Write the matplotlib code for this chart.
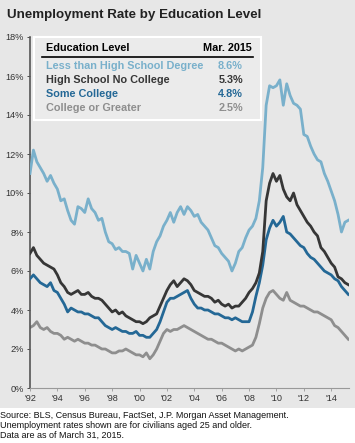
import numpy as np
import matplotlib
matplotlib.use("Agg")
import matplotlib.pyplot as plt
from matplotlib.patches import Rectangle

plt.rcParams['font.family'] = ['Liberation Sans', 'DejaVu Sans']

# quarterly readings, 1992 Q1 .. 2015 Q2 start (94 points)
quarters = 1992 + np.arange(94) / 4

less_hs = [
    11.0, 12.2, 11.6, 11.3, 11.0, 10.6, 10.9, 10.5, 10.2, 9.6, 9.7, 9.1,
    8.6, 8.4, 9.3, 9.2, 9.0, 9.7, 9.2, 9.0, 8.6, 8.7, 8.0, 7.5,
    7.4, 7.1, 7.2, 7.0, 7.0, 6.9, 6.1, 6.8, 6.4, 6.0, 6.6, 6.1,
    7.0, 7.5, 7.8, 8.3, 8.6, 9.0, 8.5, 9.0, 9.3, 8.9, 9.3, 9.1,
    8.8, 8.9, 8.5, 8.3, 8.1, 7.7, 7.3, 7.2, 6.9, 6.7, 6.5, 6.0,
    6.4, 7.0, 7.2, 7.7, 8.1, 8.3, 8.7, 9.6, 11.3, 14.5, 15.5, 15.4,
    15.5, 15.8, 14.5, 15.6, 15.0, 14.6, 14.5, 14.3, 13.0, 12.9, 12.4, 12.0,
    11.7, 11.6, 11.0, 10.6, 10.1, 9.6, 8.9, 8.0, 8.5, 8.6]
hs_no_college = [
    6.9, 7.2, 6.8, 6.6, 6.4, 6.3, 6.2, 6.1, 5.8, 5.4, 5.2, 4.9,
    4.8, 4.9, 5.0, 4.8, 4.8, 4.9, 4.7, 4.6, 4.6, 4.5, 4.3, 4.1,
    3.9, 4.0, 3.8, 3.9, 3.7, 3.6, 3.5, 3.4, 3.4, 3.3, 3.4, 3.6,
    3.7, 3.8, 4.2, 4.6, 5.0, 5.3, 5.5, 5.2, 5.4, 5.6, 5.5, 5.3,
    5.0, 4.9, 4.8, 4.7, 4.7, 4.6, 4.4, 4.5, 4.3, 4.2, 4.3, 4.1,
    4.2, 4.2, 4.4, 4.6, 4.9, 5.1, 5.4, 5.9, 7.0, 9.6, 10.5, 11.0,
    10.6, 10.9, 10.2, 9.8, 9.6, 10.0, 9.4, 9.1, 8.8, 8.5, 8.3, 8.0,
    7.8, 7.2, 7.0, 6.7, 6.4, 6.2, 5.7, 5.6, 5.4, 5.3]
some_college = [
    5.6, 5.8, 5.6, 5.4, 5.3, 5.2, 5.4, 5.0, 4.9, 4.6, 4.3, 3.9,
    4.1, 4.0, 3.9, 3.9, 3.8, 3.8, 3.7, 3.6, 3.6, 3.4, 3.2, 3.1,
    3.0, 3.1, 3.0, 2.9, 2.9, 2.8, 2.8, 2.9, 2.7, 2.7, 2.6, 2.6,
    2.8, 3.0, 3.4, 3.9, 4.4, 4.6, 4.6, 4.7, 4.8, 4.9, 5.0, 4.6,
    4.3, 4.1, 4.1, 4.0, 4.0, 3.9, 3.8, 3.8, 3.7, 3.6, 3.6, 3.5,
    3.6, 3.5, 3.4, 3.4, 3.4, 3.9, 4.7, 5.4, 6.3, 7.6, 8.2, 8.6,
    8.3, 8.5, 8.8, 8.0, 7.9, 7.7, 7.5, 7.3, 7.2, 6.9, 6.7, 6.6,
    6.4, 6.2, 6.0, 5.9, 5.8, 5.6, 5.5, 5.2, 5.0, 4.8]
college = [
    3.1, 3.2, 3.4, 3.1, 3.0, 3.1, 2.9, 2.8, 2.8, 2.7, 2.5, 2.6,
    2.5, 2.4, 2.5, 2.4, 2.3, 2.3, 2.2, 2.2, 2.1, 2.0, 2.0, 1.9,
    1.8, 1.8, 1.9, 1.9, 2.0, 1.9, 1.8, 1.7, 1.7, 1.6, 1.8, 1.5,
    1.7, 2.0, 2.4, 2.8, 3.0, 2.9, 3.0, 3.0, 3.1, 3.2, 3.1, 3.0,
    2.9, 2.8, 2.7, 2.6, 2.5, 2.5, 2.4, 2.3, 2.3, 2.2, 2.1, 2.0,
    1.9, 2.0, 1.9, 2.0, 2.1, 2.2, 2.6, 3.3, 4.1, 4.6, 4.9, 5.0,
    4.8, 4.6, 4.5, 4.9, 4.5, 4.4, 4.3, 4.2, 4.2, 4.1, 4.0, 3.9,
    3.9, 3.8, 3.7, 3.6, 3.5, 3.2, 3.1, 2.9, 2.7, 2.5]

labels = ["Less than High School Degree", "High School No College",
          "Some College", "College or Greater"]
latest = ["8.6%", "5.3%", "4.8%", "2.5%"]
colors = ["#79b0cb", "#363636", "#246896", "#8e8e8e"]

year_ticks = list(range(1992, 2015, 2))
year_labels = ["'%02d" % (y % 100) for y in year_ticks]

bg = "#e7e7e7"
fig = plt.figure(figsize=(3.55, 4.43), dpi=100, facecolor=bg)
fig.patches.append(Rectangle((0, 0), 1, 35 / 443, transform=fig.transFigure,
                             facecolor="white", edgecolor="none", zorder=0))

ax = fig.add_axes([30 / 355, 55 / 443, 319 / 355, 351 / 443])
ax.set_facecolor(bg)

series = [less_hs, hs_no_college, some_college, college]
for vals, c, z in zip(series[::-1], colors[::-1], [2, 3, 4, 5]):
    ax.plot(quarters, vals, color=c, lw=2.0, zorder=z)

ax.set_xlim(1992, 2015.3)
ax.set_ylim(0, 18)
ax.set_yticks(range(0, 19, 2))
ax.set_yticklabels(["%d%%" % v for v in range(0, 19, 2)])
ax.set_xticks(year_ticks)
ax.set_xticklabels(year_labels)
ax.tick_params(labelsize=6.6, colors="#333333", length=2.5, width=0.6, pad=2)
ax.tick_params(axis='x', colors="#999999", labelcolor="#333333")
for s in ["top", "right"]:
    ax.spines[s].set_visible(False)
ax.spines["left"].set_color("#555555")
ax.spines["left"].set_linewidth(1.2)
ax.spines["bottom"].set_color("#999999")
ax.spines["bottom"].set_linewidth(0.8)

# legend table
fig.patches.append(Rectangle((34 / 355, 1 - 120 / 443), 227 / 355, 83 / 443,
                             transform=fig.transFigure, facecolor="#ebebeb",
                             edgecolor="white", lw=1.5, zorder=6))
fig.text(46 / 355, 1 - 48 / 443, "Education Level", fontsize=7.8, fontweight="bold",
         va="center", color="black", zorder=7)
fig.text(252 / 355, 1 - 48 / 443, "Mar. 2015", fontsize=7.8, fontweight="bold",
         va="center", ha="right", color="black", zorder=7)
fig.lines.append(plt.Line2D([42 / 355, 253 / 355], [1 - 57 / 443, 1 - 57 / 443],
                            transform=fig.transFigure, color="black", lw=1.2, zorder=7))
row_y = [66, 80, 94, 108]
for lab, val, c, yy in zip(labels, latest, colors, row_y):
    fig.text(46 / 355, 1 - yy / 443, lab, fontsize=7.8, fontweight="bold",
             va="center", color=c, zorder=7)
    fig.text(243 / 355, 1 - yy / 443, val, fontsize=7.8, fontweight="bold",
             va="center", ha="right", color=c, zorder=7)

fig.text(7 / 355, 1 - 15 / 443, "Unemployment Rate by Education Level",
         fontsize=9.6, fontweight="bold", va="center", color="#222222")

foot = ["Source: BLS, Census Bureau, FactSet, J.P. Morgan Asset Management.",
        "Unemployment rates shown are for civilians aged 25 and older.",
        "Data are as of March 31, 2015."]
for i, line in enumerate(foot):
    fig.text(0, 1 - (415 + i * 10) / 443, line, fontsize=6.5, va="center",
             color="#111111")

fig.savefig("out.png", dpi=100, facecolor=bg)
